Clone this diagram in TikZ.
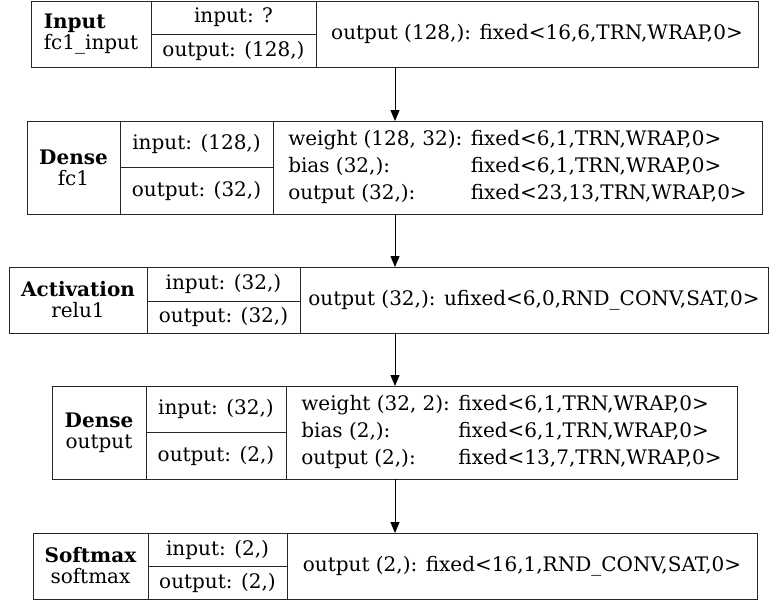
\documentclass[tikz,border=0pt]{standalone}
\usepackage{fontspec}
\setmainfont{DejaVu Serif}
\usetikzlibrary{arrows.meta}

\begin{document}
\begin{tikzpicture}[x=1pt,y=-1pt,>={Triangle[length=11pt,width=9pt]},
  cell/.style={draw=black!85,line width=1pt,inner sep=0pt,outer sep=0pt,anchor=north west,align=center,font=\fontsize{20}{21}\selectfont},
  info/.style={cell,font=\fontsize{20}{27}\selectfont}]
  \useasboundingbox (0,0) rectangle (769,600);
  \coordinate (mid) at (395,0);
  % Input layer
  \node[cell,align=left,minimum width=120pt,minimum height=66pt] (n1) at (31,1) {\textbf{Input}\\fc1\_input};
  \node[cell,minimum width=165pt,minimum height=33pt] (i1) at (151,1) {input: ?};
  \node[cell,minimum width=165pt,minimum height=33pt] (o1) at (151,34) {output: (128,)};
  \node[info,minimum width=442pt,minimum height=66pt] (t1) at (316,1) {output (128,): fixed<16,6,TRN,WRAP,0>};
  % Dense fc1
  \node[cell,minimum width=93pt,minimum height=93pt] (n2) at (27,121) {\textbf{Dense}\\fc1};
  \node[cell,minimum width=153pt,minimum height=46pt] (i2) at (120,121) {input: (128,)};
  \node[cell,minimum width=153pt,minimum height=47pt] (o2) at (120,167) {output: (32,)};
  \node[info,minimum width=489pt,minimum height=93pt] (t2) at (273,121) {%
    \begin{tabular}{@{}l@{ }l@{}}
      weight (128, 32): & fixed<6,1,TRN,WRAP,0>\\
      bias (32,): & fixed<6,1,TRN,WRAP,0>\\
      output (32,): & fixed<23,13,TRN,WRAP,0>
    \end{tabular}};
  % Activation relu1
  \node[cell,minimum width=138pt,minimum height=66pt] (n3) at (9,267) {\textbf{Activation}\\relu1};
  \node[cell,minimum width=153pt,minimum height=34pt] (i3) at (147,267) {input: (32,)};
  \node[cell,minimum width=153pt,minimum height=32pt] (o3) at (147,301) {output: (32,)};
  \node[info,minimum width=468pt,minimum height=66pt] (t3) at (300,267) {output (32,): ufixed<6,0,RND\_CONV,SAT,0>};
  % Dense output
  \node[cell,minimum width=94pt,minimum height=93pt] (n4) at (52,386) {\textbf{Dense}\\output};
  \node[cell,minimum width=140pt,minimum height=46pt] (i4) at (146,386) {input: (32,)};
  \node[cell,minimum width=140pt,minimum height=47pt] (o4) at (146,432) {output: (2,)};
  \node[info,minimum width=451pt,minimum height=93pt] (t4) at (286,386) {%
    \begin{tabular}{@{}l@{ }l@{}}
      weight (32, 2): & fixed<6,1,TRN,WRAP,0>\\
      bias (2,): & fixed<6,1,TRN,WRAP,0>\\
      output (2,): & fixed<13,7,TRN,WRAP,0>
    \end{tabular}};
  % Softmax
  \node[cell,minimum width=115pt,minimum height=66pt] (n5) at (33,533) {\textbf{Softmax}\\softmax};
  \node[cell,minimum width=139pt,minimum height=33pt] (i5) at (148,533) {input: (2,)};
  \node[cell,minimum width=139pt,minimum height=33pt] (o5) at (148,566) {output: (2,)};
  \node[info,minimum width=470pt,minimum height=66pt] (t5) at (287,533) {output (2,): fixed<16,1,RND\_CONV,SAT,0>};
  % edges
  \draw[->,line width=1pt] (t1.south -| mid) -- (t2.north -| mid);
  \draw[->,line width=1pt] (t2.south -| mid) -- (t3.north -| mid);
  \draw[->,line width=1pt] (t3.south -| mid) -- (t4.north -| mid);
  \draw[->,line width=1pt] (t4.south -| mid) -- (t5.north -| mid);
\end{tikzpicture}
\end{document}
